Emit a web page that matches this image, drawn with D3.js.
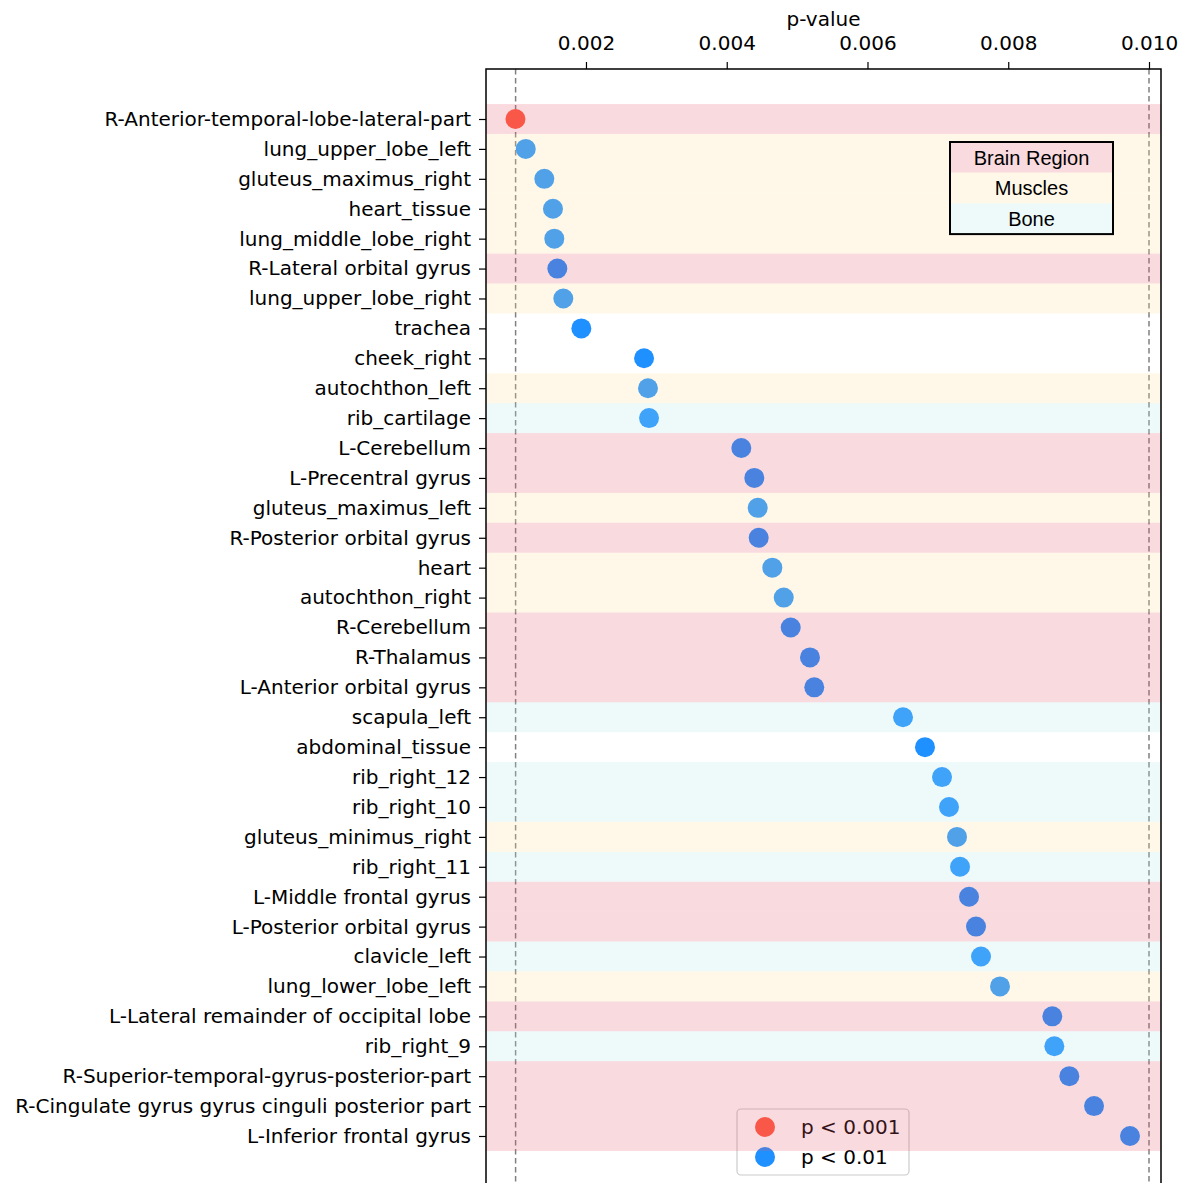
<!DOCTYPE html>
<html>
<head>
<meta charset="utf-8">
<script src="https://cdn.jsdelivr.net/npm/d3@7"></script>
<style>
  html, body { margin: 0; padding: 0; background: #ffffff; }
  svg { display: block; }
  text { fill: #000; }
</style>
</head>
<body>
<svg id="chart" width="1184" height="1183"></svg>
<script>
// ---------------- data ----------------
const labels = [
  "R-Anterior-temporal-lobe-lateral-part", "lung_upper_lobe_left", "gluteus_maximus_right",
  "heart_tissue", "lung_middle_lobe_right", "R-Lateral orbital gyrus", "lung_upper_lobe_right",
  "trachea", "cheek_right", "autochthon_left", "rib_cartilage", "L-Cerebellum",
  "L-Precentral gyrus", "gluteus_maximus_left", "R-Posterior orbital gyrus", "heart",
  "autochthon_right", "R-Cerebellum", "R-Thalamus", "L-Anterior orbital gyrus",
  "scapula_left", "abdominal_tissue", "rib_right_12", "rib_right_10", "gluteus_minimus_right",
  "rib_right_11", "L-Middle frontal gyrus", "L-Posterior orbital gyrus", "clavicle_left",
  "lung_lower_lobe_left", "L-Lateral remainder of occipital lobe", "rib_right_9",
  "R-Superior-temporal-gyrus-posterior-part", "R-Cingulate gyrus gyrus cinguli posterior part",
  "L-Inferior frontal gyrus"
];
const pValues = [
  0.000998, 0.001144, 0.001408, 0.001531, 0.001550, 0.001593, 0.001678,
  0.001934, 0.002825, 0.002881, 0.002896, 0.004207, 0.004392, 0.004440,
  0.004454, 0.004648, 0.004810, 0.004909, 0.005183, 0.005244, 0.006505,
  0.006817, 0.007059, 0.007158, 0.007272, 0.007315, 0.007443, 0.007542,
  0.007613, 0.007883, 0.008626, 0.008655, 0.008868, 0.009219, 0.009730
];
const categories = [
  "Brain", "Muscles", "Muscles", "Muscles", "Muscles", "Brain", "Muscles",
  "None", "None", "Muscles", "Bone", "Brain", "Brain", "Muscles",
  "Brain", "Muscles", "Muscles", "Brain", "Brain", "Brain", "Bone",
  "None", "Bone", "Bone", "Muscles", "Bone", "Brain", "Brain",
  "Bone", "Muscles", "Brain", "Bone", "Brain", "Brain", "Brain"
];
const xTicks = [0.002, 0.004, 0.006, 0.008, 0.010];
const thresholds = [0.001, 0.01];
const tableRows = ["Brain Region", "Muscles", "Bone"];
const legendItems = ["p < 0.001", "p < 0.01"];

// ---------------- styles ----------------
const FONT = "'DejaVu Sans', sans-serif";
const TABLE_FONT = "'Liberation Sans', Arial, sans-serif";
const bandColor = { Brain: "rgb(228,89,111)", Muscles: "rgb(255,223,151)", Bone: "rgb(178,232,232)", None: null };
const bandOpacity = 0.222;
const tableColors = ["rgb(249,218,223)", "rgb(255,248,232)", "rgb(238,250,250)"];
const redColor = "rgb(255,88,62)";
const blueColor = "#1E90FF";

// ---------------- layout ----------------
const L = 486, R = 1161, T = 69, B = 1240;
const svg = d3.select("#chart");

const x = d3.scaleLinear().domain([0.001, 0.010]).range([515.6, 1149]);
const y = d3.scaleLinear().domain([0, labels.length - 1]).range([119, 1136]);
const rowH = y(1) - y(0);

const data = labels.map((l, i) => ({ label: l, p: pValues[i], cat: categories[i], i }));

// p-value legend (drawn beneath bands)
const lg = svg.append("g").attr("class", "legend");
lg.append("rect").attr("x", 737).attr("y", 1109).attr("width", 172).attr("height", 66)
  .attr("rx", 4).attr("fill", "#fff").attr("fill-opacity", 0.8)
  .attr("stroke", "#cccccc").attr("stroke-width", 1.2);
legendItems.forEach((t, k) => {
  const cy = 1127 + k * 30;
  lg.append("circle").attr("cx", 765).attr("cy", cy).attr("r", 10)
    .attr("fill", k === 0 ? redColor : blueColor);
  lg.append("text").attr("x", 801).attr("y", cy).attr("dy", "0.36em")
    .style("font-family", FONT).style("font-size", "20px").text(t);
});

// threshold dashed lines
svg.append("g").selectAll("line").data(thresholds).join("line")
  .attr("x1", d => x(d)).attr("x2", d => x(d)).attr("y1", T).attr("y2", B)
  .attr("stroke", "#808080").attr("stroke-width", 1.5).attr("stroke-dasharray", "5.5,3.5");

// dots
svg.append("g").selectAll("circle").data(data).join("circle")
  .attr("cx", d => x(d.p)).attr("cy", d => y(d.i)).attr("r", 10)
  .attr("fill", d => d.p < 0.001 ? redColor : blueColor);

// category bands (on top, translucent)
svg.append("g").selectAll("rect").data(data.filter(d => bandColor[d.cat])).join("rect")
  .attr("x", L).attr("width", R - L)
  .attr("y", d => y(d.i) - rowH / 2).attr("height", rowH)
  .attr("fill", d => bandColor[d.cat]).attr("fill-opacity", bandOpacity);

// frame
svg.append("rect").attr("x", L).attr("y", T).attr("width", R - L).attr("height", B - T)
  .attr("fill", "none").attr("stroke", "#000").attr("stroke-width", 1.5);

// top axis
const xAxis = d3.axisTop(x).tickValues(xTicks).tickFormat(d3.format(".3f")).tickSize(7).tickPadding(12);
const gx = svg.append("g").attr("transform", `translate(0,${T})`).call(xAxis);
gx.select(".domain").remove();
gx.selectAll(".tick line").attr("stroke", "#000").attr("stroke-width", 1.2);
gx.selectAll(".tick text").style("font-size", "20px").style("font-family", FONT).attr("fill", "#000");

svg.append("text").attr("x", (L + R) / 2).attr("y", 26).attr("text-anchor", "middle")
  .style("font-family", FONT).style("font-size", "20px").text("p-value");

// left axis
const yAxis = d3.axisLeft(y).tickValues(d3.range(labels.length)).tickFormat(i => labels[i]).tickSize(7).tickPadding(8);
const gy = svg.append("g").attr("transform", `translate(${L},0)`).call(yAxis);
gy.select(".domain").remove();
gy.selectAll(".tick line").attr("stroke", "#000").attr("stroke-width", 1.2);
gy.selectAll(".tick text").style("font-size", "20px").style("font-family", FONT).attr("fill", "#000");

// category table legend
const tb = svg.append("g");
const tx = 950, ty = 142, tw = 163, th = 30.7;
tableRows.forEach((t, k) => {
  tb.append("rect").attr("x", tx).attr("y", ty + k * th).attr("width", tw).attr("height", th)
    .attr("fill", tableColors[k]);
  tb.append("text").attr("x", tx + tw / 2).attr("y", ty + k * th + th / 2).attr("dy", "0.36em")
    .attr("text-anchor", "middle")
    .style("font-family", TABLE_FONT).style("font-size", "20px").text(t);
});
tb.append("rect").attr("x", tx).attr("y", ty).attr("width", tw).attr("height", th * 3)
  .attr("fill", "none").attr("stroke", "#000").attr("stroke-width", 2);
</script>
</body>
</html>
